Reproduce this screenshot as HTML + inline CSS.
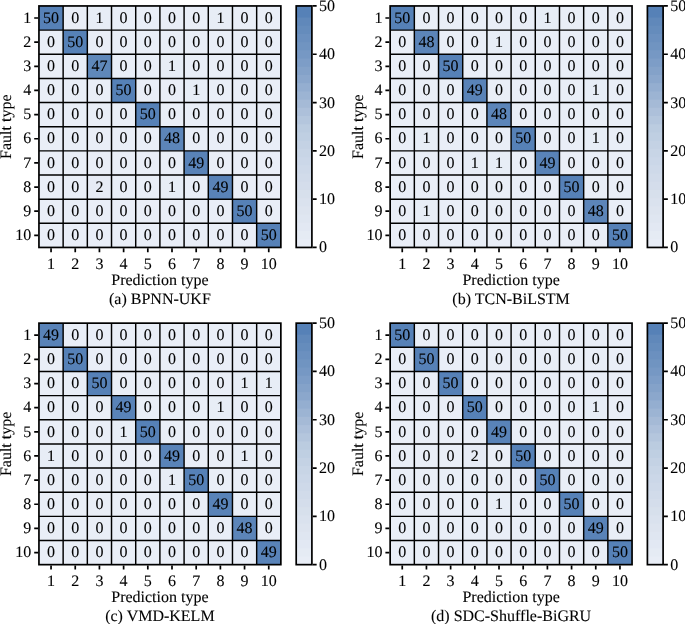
<!DOCTYPE html>
<html><head><meta charset="utf-8"><title>Confusion matrices</title>
<style>
html,body{margin:0;padding:0;background:#fff;}
body{width:685px;height:624px;overflow:hidden;}
svg{display:block;font-family:"Liberation Serif",serif;fill:#000;text-rendering:geometricPrecision;}
text{stroke:#000;stroke-width:0.1px;font-variant-ligatures:none;}
</style></head><body>
<svg width="685" height="624" viewBox="0 0 685 624">
<rect width="685" height="624" fill="#fff"/>
<g transform="translate(0,0)">
<rect x="38.95" y="5.95" width="24.19" height="24.15" fill="#5681b7"/>
<rect x="63.14" y="5.95" width="24.19" height="24.15" fill="#e9eef7"/>
<rect x="87.33" y="5.95" width="24.19" height="24.15" fill="#e7edf6"/>
<rect x="111.52" y="5.95" width="24.19" height="24.15" fill="#e9eef7"/>
<rect x="135.71" y="5.95" width="24.19" height="24.15" fill="#e9eef7"/>
<rect x="159.9" y="5.95" width="24.19" height="24.15" fill="#e9eef7"/>
<rect x="184.09" y="5.95" width="24.19" height="24.15" fill="#e9eef7"/>
<rect x="208.28" y="5.95" width="24.19" height="24.15" fill="#e7edf6"/>
<rect x="232.47" y="5.95" width="24.19" height="24.15" fill="#e9eef7"/>
<rect x="256.66" y="5.95" width="24.19" height="24.15" fill="#e9eef7"/>
<rect x="38.95" y="30.1" width="24.19" height="24.15" fill="#e9eef7"/>
<rect x="63.14" y="30.1" width="24.19" height="24.15" fill="#5681b7"/>
<rect x="87.33" y="30.1" width="24.19" height="24.15" fill="#e9eef7"/>
<rect x="111.52" y="30.1" width="24.19" height="24.15" fill="#e9eef7"/>
<rect x="135.71" y="30.1" width="24.19" height="24.15" fill="#e9eef7"/>
<rect x="159.9" y="30.1" width="24.19" height="24.15" fill="#e9eef7"/>
<rect x="184.09" y="30.1" width="24.19" height="24.15" fill="#e9eef7"/>
<rect x="208.28" y="30.1" width="24.19" height="24.15" fill="#e9eef7"/>
<rect x="232.47" y="30.1" width="24.19" height="24.15" fill="#e9eef7"/>
<rect x="256.66" y="30.1" width="24.19" height="24.15" fill="#e9eef7"/>
<rect x="38.95" y="54.25" width="24.19" height="24.15" fill="#e9eef7"/>
<rect x="63.14" y="54.25" width="24.19" height="24.15" fill="#e9eef7"/>
<rect x="87.33" y="54.25" width="24.19" height="24.15" fill="#5f88ba"/>
<rect x="111.52" y="54.25" width="24.19" height="24.15" fill="#e9eef7"/>
<rect x="135.71" y="54.25" width="24.19" height="24.15" fill="#e9eef7"/>
<rect x="159.9" y="54.25" width="24.19" height="24.15" fill="#e7edf6"/>
<rect x="184.09" y="54.25" width="24.19" height="24.15" fill="#e9eef7"/>
<rect x="208.28" y="54.25" width="24.19" height="24.15" fill="#e9eef7"/>
<rect x="232.47" y="54.25" width="24.19" height="24.15" fill="#e9eef7"/>
<rect x="256.66" y="54.25" width="24.19" height="24.15" fill="#e9eef7"/>
<rect x="38.95" y="78.4" width="24.19" height="24.15" fill="#e9eef7"/>
<rect x="63.14" y="78.4" width="24.19" height="24.15" fill="#e9eef7"/>
<rect x="87.33" y="78.4" width="24.19" height="24.15" fill="#e9eef7"/>
<rect x="111.52" y="78.4" width="24.19" height="24.15" fill="#5681b7"/>
<rect x="135.71" y="78.4" width="24.19" height="24.15" fill="#e9eef7"/>
<rect x="159.9" y="78.4" width="24.19" height="24.15" fill="#e9eef7"/>
<rect x="184.09" y="78.4" width="24.19" height="24.15" fill="#e7edf6"/>
<rect x="208.28" y="78.4" width="24.19" height="24.15" fill="#e9eef7"/>
<rect x="232.47" y="78.4" width="24.19" height="24.15" fill="#e9eef7"/>
<rect x="256.66" y="78.4" width="24.19" height="24.15" fill="#e9eef7"/>
<rect x="38.95" y="102.55" width="24.19" height="24.15" fill="#e9eef7"/>
<rect x="63.14" y="102.55" width="24.19" height="24.15" fill="#e9eef7"/>
<rect x="87.33" y="102.55" width="24.19" height="24.15" fill="#e9eef7"/>
<rect x="111.52" y="102.55" width="24.19" height="24.15" fill="#e9eef7"/>
<rect x="135.71" y="102.55" width="24.19" height="24.15" fill="#5681b7"/>
<rect x="159.9" y="102.55" width="24.19" height="24.15" fill="#e9eef7"/>
<rect x="184.09" y="102.55" width="24.19" height="24.15" fill="#e9eef7"/>
<rect x="208.28" y="102.55" width="24.19" height="24.15" fill="#e9eef7"/>
<rect x="232.47" y="102.55" width="24.19" height="24.15" fill="#e9eef7"/>
<rect x="256.66" y="102.55" width="24.19" height="24.15" fill="#e9eef7"/>
<rect x="38.95" y="126.7" width="24.19" height="24.15" fill="#e9eef7"/>
<rect x="63.14" y="126.7" width="24.19" height="24.15" fill="#e9eef7"/>
<rect x="87.33" y="126.7" width="24.19" height="24.15" fill="#e9eef7"/>
<rect x="111.52" y="126.7" width="24.19" height="24.15" fill="#e9eef7"/>
<rect x="135.71" y="126.7" width="24.19" height="24.15" fill="#e9eef7"/>
<rect x="159.9" y="126.7" width="24.19" height="24.15" fill="#5c85b9"/>
<rect x="184.09" y="126.7" width="24.19" height="24.15" fill="#e9eef7"/>
<rect x="208.28" y="126.7" width="24.19" height="24.15" fill="#e9eef7"/>
<rect x="232.47" y="126.7" width="24.19" height="24.15" fill="#e9eef7"/>
<rect x="256.66" y="126.7" width="24.19" height="24.15" fill="#e9eef7"/>
<rect x="38.95" y="150.85" width="24.19" height="24.15" fill="#e9eef7"/>
<rect x="63.14" y="150.85" width="24.19" height="24.15" fill="#e9eef7"/>
<rect x="87.33" y="150.85" width="24.19" height="24.15" fill="#e9eef7"/>
<rect x="111.52" y="150.85" width="24.19" height="24.15" fill="#e9eef7"/>
<rect x="135.71" y="150.85" width="24.19" height="24.15" fill="#e9eef7"/>
<rect x="159.9" y="150.85" width="24.19" height="24.15" fill="#e9eef7"/>
<rect x="184.09" y="150.85" width="24.19" height="24.15" fill="#5983b8"/>
<rect x="208.28" y="150.85" width="24.19" height="24.15" fill="#e9eef7"/>
<rect x="232.47" y="150.85" width="24.19" height="24.15" fill="#e9eef7"/>
<rect x="256.66" y="150.85" width="24.19" height="24.15" fill="#e9eef7"/>
<rect x="38.95" y="175" width="24.19" height="24.15" fill="#e9eef7"/>
<rect x="63.14" y="175" width="24.19" height="24.15" fill="#e9eef7"/>
<rect x="87.33" y="175" width="24.19" height="24.15" fill="#e6ebf5"/>
<rect x="111.52" y="175" width="24.19" height="24.15" fill="#e9eef7"/>
<rect x="135.71" y="175" width="24.19" height="24.15" fill="#e9eef7"/>
<rect x="159.9" y="175" width="24.19" height="24.15" fill="#e7edf6"/>
<rect x="184.09" y="175" width="24.19" height="24.15" fill="#e9eef7"/>
<rect x="208.28" y="175" width="24.19" height="24.15" fill="#5983b8"/>
<rect x="232.47" y="175" width="24.19" height="24.15" fill="#e9eef7"/>
<rect x="256.66" y="175" width="24.19" height="24.15" fill="#e9eef7"/>
<rect x="38.95" y="199.15" width="24.19" height="24.15" fill="#e9eef7"/>
<rect x="63.14" y="199.15" width="24.19" height="24.15" fill="#e9eef7"/>
<rect x="87.33" y="199.15" width="24.19" height="24.15" fill="#e9eef7"/>
<rect x="111.52" y="199.15" width="24.19" height="24.15" fill="#e9eef7"/>
<rect x="135.71" y="199.15" width="24.19" height="24.15" fill="#e9eef7"/>
<rect x="159.9" y="199.15" width="24.19" height="24.15" fill="#e9eef7"/>
<rect x="184.09" y="199.15" width="24.19" height="24.15" fill="#e9eef7"/>
<rect x="208.28" y="199.15" width="24.19" height="24.15" fill="#e9eef7"/>
<rect x="232.47" y="199.15" width="24.19" height="24.15" fill="#5681b7"/>
<rect x="256.66" y="199.15" width="24.19" height="24.15" fill="#e9eef7"/>
<rect x="38.95" y="223.3" width="24.19" height="24.15" fill="#e9eef7"/>
<rect x="63.14" y="223.3" width="24.19" height="24.15" fill="#e9eef7"/>
<rect x="87.33" y="223.3" width="24.19" height="24.15" fill="#e9eef7"/>
<rect x="111.52" y="223.3" width="24.19" height="24.15" fill="#e9eef7"/>
<rect x="135.71" y="223.3" width="24.19" height="24.15" fill="#e9eef7"/>
<rect x="159.9" y="223.3" width="24.19" height="24.15" fill="#e9eef7"/>
<rect x="184.09" y="223.3" width="24.19" height="24.15" fill="#e9eef7"/>
<rect x="208.28" y="223.3" width="24.19" height="24.15" fill="#e9eef7"/>
<rect x="232.47" y="223.3" width="24.19" height="24.15" fill="#e9eef7"/>
<rect x="256.66" y="223.3" width="24.19" height="24.15" fill="#5681b7"/>
<path d="M63.14 5.95V247.45M38.95 30.1H280.85M87.33 5.95V247.45M38.95 54.25H280.85M111.52 5.95V247.45M38.95 78.4H280.85M135.71 5.95V247.45M38.95 102.55H280.85M159.9 5.95V247.45M38.95 126.7H280.85M184.09 5.95V247.45M38.95 150.85H280.85M208.28 5.95V247.45M38.95 175H280.85M232.47 5.95V247.45M38.95 199.15H280.85M256.66 5.95V247.45M38.95 223.3H280.85" stroke="#000" stroke-width="1.45" fill="none"/>
<rect x="38.95" y="5.95" width="241.9" height="241.5" fill="none" stroke="#000" stroke-width="1.7"/>
<path d="M34.2 18.02H38.1M51.05 248.3V252.2M34.2 42.17H38.1M75.24 248.3V252.2M34.2 66.33H38.1M99.43 248.3V252.2M34.2 90.47H38.1M123.62 248.3V252.2M34.2 114.62H38.1M147.81 248.3V252.2M34.2 138.77H38.1M172 248.3V252.2M34.2 162.92H38.1M196.19 248.3V252.2M34.2 187.07H38.1M220.38 248.3V252.2M34.2 211.22H38.1M244.56 248.3V252.2M34.2 235.37H38.1M268.75 248.3V252.2" stroke="#000" stroke-width="1.7" fill="none"/>
<g font-size="16" text-anchor="middle">
<text x="51.05" y="22.72">50</text>
<text x="75.24" y="22.72">0</text>
<text x="99.43" y="22.72">1</text>
<text x="123.62" y="22.72">0</text>
<text x="147.81" y="22.72">0</text>
<text x="172" y="22.72">0</text>
<text x="196.19" y="22.72">0</text>
<text x="220.38" y="22.72">1</text>
<text x="244.56" y="22.72">0</text>
<text x="268.75" y="22.72">0</text>
<text x="51.05" y="46.88">0</text>
<text x="75.24" y="46.88">50</text>
<text x="99.43" y="46.88">0</text>
<text x="123.62" y="46.88">0</text>
<text x="147.81" y="46.88">0</text>
<text x="172" y="46.88">0</text>
<text x="196.19" y="46.88">0</text>
<text x="220.38" y="46.88">0</text>
<text x="244.56" y="46.88">0</text>
<text x="268.75" y="46.88">0</text>
<text x="51.05" y="71.03">0</text>
<text x="75.24" y="71.03">0</text>
<text x="99.43" y="71.03">47</text>
<text x="123.62" y="71.03">0</text>
<text x="147.81" y="71.03">0</text>
<text x="172" y="71.03">1</text>
<text x="196.19" y="71.03">0</text>
<text x="220.38" y="71.03">0</text>
<text x="244.56" y="71.03">0</text>
<text x="268.75" y="71.03">0</text>
<text x="51.05" y="95.17">0</text>
<text x="75.24" y="95.17">0</text>
<text x="99.43" y="95.17">0</text>
<text x="123.62" y="95.17">50</text>
<text x="147.81" y="95.17">0</text>
<text x="172" y="95.17">0</text>
<text x="196.19" y="95.17">1</text>
<text x="220.38" y="95.17">0</text>
<text x="244.56" y="95.17">0</text>
<text x="268.75" y="95.17">0</text>
<text x="51.05" y="119.33">0</text>
<text x="75.24" y="119.33">0</text>
<text x="99.43" y="119.33">0</text>
<text x="123.62" y="119.33">0</text>
<text x="147.81" y="119.33">50</text>
<text x="172" y="119.33">0</text>
<text x="196.19" y="119.33">0</text>
<text x="220.38" y="119.33">0</text>
<text x="244.56" y="119.33">0</text>
<text x="268.75" y="119.33">0</text>
<text x="51.05" y="143.47">0</text>
<text x="75.24" y="143.47">0</text>
<text x="99.43" y="143.47">0</text>
<text x="123.62" y="143.47">0</text>
<text x="147.81" y="143.47">0</text>
<text x="172" y="143.47">48</text>
<text x="196.19" y="143.47">0</text>
<text x="220.38" y="143.47">0</text>
<text x="244.56" y="143.47">0</text>
<text x="268.75" y="143.47">0</text>
<text x="51.05" y="167.62">0</text>
<text x="75.24" y="167.62">0</text>
<text x="99.43" y="167.62">0</text>
<text x="123.62" y="167.62">0</text>
<text x="147.81" y="167.62">0</text>
<text x="172" y="167.62">0</text>
<text x="196.19" y="167.62">49</text>
<text x="220.38" y="167.62">0</text>
<text x="244.56" y="167.62">0</text>
<text x="268.75" y="167.62">0</text>
<text x="51.05" y="191.77">0</text>
<text x="75.24" y="191.77">0</text>
<text x="99.43" y="191.77">2</text>
<text x="123.62" y="191.77">0</text>
<text x="147.81" y="191.77">0</text>
<text x="172" y="191.77">1</text>
<text x="196.19" y="191.77">0</text>
<text x="220.38" y="191.77">49</text>
<text x="244.56" y="191.77">0</text>
<text x="268.75" y="191.77">0</text>
<text x="51.05" y="215.92">0</text>
<text x="75.24" y="215.92">0</text>
<text x="99.43" y="215.92">0</text>
<text x="123.62" y="215.92">0</text>
<text x="147.81" y="215.92">0</text>
<text x="172" y="215.92">0</text>
<text x="196.19" y="215.92">0</text>
<text x="220.38" y="215.92">0</text>
<text x="244.56" y="215.92">50</text>
<text x="268.75" y="215.92">0</text>
<text x="51.05" y="240.07">0</text>
<text x="75.24" y="240.07">0</text>
<text x="99.43" y="240.07">0</text>
<text x="123.62" y="240.07">0</text>
<text x="147.81" y="240.07">0</text>
<text x="172" y="240.07">0</text>
<text x="196.19" y="240.07">0</text>
<text x="220.38" y="240.07">0</text>
<text x="244.56" y="240.07">0</text>
<text x="268.75" y="240.07">50</text>
</g>
<g font-size="16" text-anchor="end">
<text x="31.3" y="22.72">1</text>
<text x="31.3" y="46.88">2</text>
<text x="31.3" y="71.03">3</text>
<text x="31.3" y="95.17">4</text>
<text x="31.3" y="119.33">5</text>
<text x="31.3" y="143.47">6</text>
<text x="31.3" y="167.62">7</text>
<text x="31.3" y="191.77">8</text>
<text x="31.3" y="215.92">9</text>
<text x="31.3" y="240.07">10</text>
</g>
<g font-size="16" text-anchor="middle">
<text x="51.05" y="268.9">1</text>
<text x="75.24" y="268.9">2</text>
<text x="99.43" y="268.9">3</text>
<text x="123.62" y="268.9">4</text>
<text x="147.81" y="268.9">5</text>
<text x="172" y="268.9">6</text>
<text x="196.19" y="268.9">7</text>
<text x="220.38" y="268.9">8</text>
<text x="244.56" y="268.9">9</text>
<text x="268.75" y="268.9">10</text>
<text x="159.9" y="284.7">Prediction type</text>
<text x="159.9" y="303.5">(a) BPNN-UKF</text>
<text transform="translate(10.8,126.7) rotate(-90)">Fault type</text>
</g>
<rect x="296.2" y="5.95" width="15.7" height="241.5" fill="#e8edf6"/>
<rect x="296.2" y="5.95" width="15.7" height="233.29" fill="#e5ebf4"/>
<rect x="296.2" y="5.95" width="15.7" height="225.07" fill="#e2e8f3"/>
<rect x="296.2" y="5.95" width="15.7" height="216.86" fill="#dfe6f1"/>
<rect x="296.2" y="5.95" width="15.7" height="208.64" fill="#dde4ef"/>
<rect x="296.2" y="5.95" width="15.7" height="200.43" fill="#dae2ee"/>
<rect x="296.2" y="5.95" width="15.7" height="192.21" fill="#d7e0ec"/>
<rect x="296.2" y="5.95" width="15.7" height="184" fill="#d4ddeb"/>
<rect x="296.2" y="5.95" width="15.7" height="175.79" fill="#d1dbea"/>
<rect x="296.2" y="5.95" width="15.7" height="167.57" fill="#ced9e9"/>
<rect x="296.2" y="5.95" width="15.7" height="159.36" fill="#cbd7e8"/>
<rect x="296.2" y="5.95" width="15.7" height="151.14" fill="#c8d5e6"/>
<rect x="296.2" y="5.95" width="15.7" height="142.93" fill="#c4d2e4"/>
<rect x="296.2" y="5.95" width="15.7" height="134.71" fill="#bfcfe2"/>
<rect x="296.2" y="5.95" width="15.7" height="126.5" fill="#bbcce0"/>
<rect x="296.2" y="5.95" width="15.7" height="118.29" fill="#b4c6dd"/>
<rect x="296.2" y="5.95" width="15.7" height="110.07" fill="#adc0da"/>
<rect x="296.2" y="5.95" width="15.7" height="101.86" fill="#a5bad6"/>
<rect x="296.2" y="5.95" width="15.7" height="93.64" fill="#9cb4d3"/>
<rect x="296.2" y="5.95" width="15.7" height="85.43" fill="#94aed0"/>
<rect x="296.2" y="5.95" width="15.7" height="77.21" fill="#8ba7cc"/>
<rect x="296.2" y="5.95" width="15.7" height="69" fill="#84a2c9"/>
<rect x="296.2" y="5.95" width="15.7" height="60.79" fill="#7d9dc7"/>
<rect x="296.2" y="5.95" width="15.7" height="52.57" fill="#7698c4"/>
<rect x="296.2" y="5.95" width="15.7" height="44.36" fill="#7094c1"/>
<rect x="296.2" y="5.95" width="15.7" height="36.14" fill="#6b90bf"/>
<rect x="296.2" y="5.95" width="15.7" height="27.93" fill="#658cbc"/>
<rect x="296.2" y="5.95" width="15.7" height="19.71" fill="#6088ba"/>
<rect x="296.2" y="5.95" width="15.7" height="11.5" fill="#5681b7"/>
<rect x="296.2" y="5.95" width="15.7" height="3.29" fill="#5681b7"/>
<rect x="296.2" y="5.95" width="15.7" height="241.5" fill="none" stroke="#000" stroke-width="1.7"/>
<path d="M312.75 247.45H316.65M312.75 199.15H316.65M312.75 150.85H316.65M312.75 102.55H316.65M312.75 54.25H316.65M312.75 5.95H316.65" stroke="#000" stroke-width="1.7" fill="none"/>
<g font-size="16">
<text x="319" y="252.45">0</text>
<text x="319" y="204.15">10</text>
<text x="319" y="155.85">20</text>
<text x="319" y="107.55">30</text>
<text x="319" y="59.25">40</text>
<text x="319" y="10.95">50</text>
</g>
</g>
<g transform="translate(351.2,0)">
<rect x="38.95" y="5.95" width="24.19" height="24.15" fill="#5681b7"/>
<rect x="63.14" y="5.95" width="24.19" height="24.15" fill="#e9eef7"/>
<rect x="87.33" y="5.95" width="24.19" height="24.15" fill="#e9eef7"/>
<rect x="111.52" y="5.95" width="24.19" height="24.15" fill="#e9eef7"/>
<rect x="135.71" y="5.95" width="24.19" height="24.15" fill="#e9eef7"/>
<rect x="159.9" y="5.95" width="24.19" height="24.15" fill="#e9eef7"/>
<rect x="184.09" y="5.95" width="24.19" height="24.15" fill="#e7edf6"/>
<rect x="208.28" y="5.95" width="24.19" height="24.15" fill="#e9eef7"/>
<rect x="232.47" y="5.95" width="24.19" height="24.15" fill="#e9eef7"/>
<rect x="256.66" y="5.95" width="24.19" height="24.15" fill="#e9eef7"/>
<rect x="38.95" y="30.1" width="24.19" height="24.15" fill="#e9eef7"/>
<rect x="63.14" y="30.1" width="24.19" height="24.15" fill="#5c85b9"/>
<rect x="87.33" y="30.1" width="24.19" height="24.15" fill="#e9eef7"/>
<rect x="111.52" y="30.1" width="24.19" height="24.15" fill="#e9eef7"/>
<rect x="135.71" y="30.1" width="24.19" height="24.15" fill="#e7edf6"/>
<rect x="159.9" y="30.1" width="24.19" height="24.15" fill="#e9eef7"/>
<rect x="184.09" y="30.1" width="24.19" height="24.15" fill="#e9eef7"/>
<rect x="208.28" y="30.1" width="24.19" height="24.15" fill="#e9eef7"/>
<rect x="232.47" y="30.1" width="24.19" height="24.15" fill="#e9eef7"/>
<rect x="256.66" y="30.1" width="24.19" height="24.15" fill="#e9eef7"/>
<rect x="38.95" y="54.25" width="24.19" height="24.15" fill="#e9eef7"/>
<rect x="63.14" y="54.25" width="24.19" height="24.15" fill="#e9eef7"/>
<rect x="87.33" y="54.25" width="24.19" height="24.15" fill="#5681b7"/>
<rect x="111.52" y="54.25" width="24.19" height="24.15" fill="#e9eef7"/>
<rect x="135.71" y="54.25" width="24.19" height="24.15" fill="#e9eef7"/>
<rect x="159.9" y="54.25" width="24.19" height="24.15" fill="#e9eef7"/>
<rect x="184.09" y="54.25" width="24.19" height="24.15" fill="#e9eef7"/>
<rect x="208.28" y="54.25" width="24.19" height="24.15" fill="#e9eef7"/>
<rect x="232.47" y="54.25" width="24.19" height="24.15" fill="#e9eef7"/>
<rect x="256.66" y="54.25" width="24.19" height="24.15" fill="#e9eef7"/>
<rect x="38.95" y="78.4" width="24.19" height="24.15" fill="#e9eef7"/>
<rect x="63.14" y="78.4" width="24.19" height="24.15" fill="#e9eef7"/>
<rect x="87.33" y="78.4" width="24.19" height="24.15" fill="#e9eef7"/>
<rect x="111.52" y="78.4" width="24.19" height="24.15" fill="#5983b8"/>
<rect x="135.71" y="78.4" width="24.19" height="24.15" fill="#e9eef7"/>
<rect x="159.9" y="78.4" width="24.19" height="24.15" fill="#e9eef7"/>
<rect x="184.09" y="78.4" width="24.19" height="24.15" fill="#e9eef7"/>
<rect x="208.28" y="78.4" width="24.19" height="24.15" fill="#e9eef7"/>
<rect x="232.47" y="78.4" width="24.19" height="24.15" fill="#e7edf6"/>
<rect x="256.66" y="78.4" width="24.19" height="24.15" fill="#e9eef7"/>
<rect x="38.95" y="102.55" width="24.19" height="24.15" fill="#e9eef7"/>
<rect x="63.14" y="102.55" width="24.19" height="24.15" fill="#e9eef7"/>
<rect x="87.33" y="102.55" width="24.19" height="24.15" fill="#e9eef7"/>
<rect x="111.52" y="102.55" width="24.19" height="24.15" fill="#e9eef7"/>
<rect x="135.71" y="102.55" width="24.19" height="24.15" fill="#5c85b9"/>
<rect x="159.9" y="102.55" width="24.19" height="24.15" fill="#e9eef7"/>
<rect x="184.09" y="102.55" width="24.19" height="24.15" fill="#e9eef7"/>
<rect x="208.28" y="102.55" width="24.19" height="24.15" fill="#e9eef7"/>
<rect x="232.47" y="102.55" width="24.19" height="24.15" fill="#e9eef7"/>
<rect x="256.66" y="102.55" width="24.19" height="24.15" fill="#e9eef7"/>
<rect x="38.95" y="126.7" width="24.19" height="24.15" fill="#e9eef7"/>
<rect x="63.14" y="126.7" width="24.19" height="24.15" fill="#e7edf6"/>
<rect x="87.33" y="126.7" width="24.19" height="24.15" fill="#e9eef7"/>
<rect x="111.52" y="126.7" width="24.19" height="24.15" fill="#e9eef7"/>
<rect x="135.71" y="126.7" width="24.19" height="24.15" fill="#e9eef7"/>
<rect x="159.9" y="126.7" width="24.19" height="24.15" fill="#5681b7"/>
<rect x="184.09" y="126.7" width="24.19" height="24.15" fill="#e9eef7"/>
<rect x="208.28" y="126.7" width="24.19" height="24.15" fill="#e9eef7"/>
<rect x="232.47" y="126.7" width="24.19" height="24.15" fill="#e7edf6"/>
<rect x="256.66" y="126.7" width="24.19" height="24.15" fill="#e9eef7"/>
<rect x="38.95" y="150.85" width="24.19" height="24.15" fill="#e9eef7"/>
<rect x="63.14" y="150.85" width="24.19" height="24.15" fill="#e9eef7"/>
<rect x="87.33" y="150.85" width="24.19" height="24.15" fill="#e9eef7"/>
<rect x="111.52" y="150.85" width="24.19" height="24.15" fill="#e7edf6"/>
<rect x="135.71" y="150.85" width="24.19" height="24.15" fill="#e7edf6"/>
<rect x="159.9" y="150.85" width="24.19" height="24.15" fill="#e9eef7"/>
<rect x="184.09" y="150.85" width="24.19" height="24.15" fill="#5983b8"/>
<rect x="208.28" y="150.85" width="24.19" height="24.15" fill="#e9eef7"/>
<rect x="232.47" y="150.85" width="24.19" height="24.15" fill="#e9eef7"/>
<rect x="256.66" y="150.85" width="24.19" height="24.15" fill="#e9eef7"/>
<rect x="38.95" y="175" width="24.19" height="24.15" fill="#e9eef7"/>
<rect x="63.14" y="175" width="24.19" height="24.15" fill="#e9eef7"/>
<rect x="87.33" y="175" width="24.19" height="24.15" fill="#e9eef7"/>
<rect x="111.52" y="175" width="24.19" height="24.15" fill="#e9eef7"/>
<rect x="135.71" y="175" width="24.19" height="24.15" fill="#e9eef7"/>
<rect x="159.9" y="175" width="24.19" height="24.15" fill="#e9eef7"/>
<rect x="184.09" y="175" width="24.19" height="24.15" fill="#e9eef7"/>
<rect x="208.28" y="175" width="24.19" height="24.15" fill="#5681b7"/>
<rect x="232.47" y="175" width="24.19" height="24.15" fill="#e9eef7"/>
<rect x="256.66" y="175" width="24.19" height="24.15" fill="#e9eef7"/>
<rect x="38.95" y="199.15" width="24.19" height="24.15" fill="#e9eef7"/>
<rect x="63.14" y="199.15" width="24.19" height="24.15" fill="#e7edf6"/>
<rect x="87.33" y="199.15" width="24.19" height="24.15" fill="#e9eef7"/>
<rect x="111.52" y="199.15" width="24.19" height="24.15" fill="#e9eef7"/>
<rect x="135.71" y="199.15" width="24.19" height="24.15" fill="#e9eef7"/>
<rect x="159.9" y="199.15" width="24.19" height="24.15" fill="#e9eef7"/>
<rect x="184.09" y="199.15" width="24.19" height="24.15" fill="#e9eef7"/>
<rect x="208.28" y="199.15" width="24.19" height="24.15" fill="#e9eef7"/>
<rect x="232.47" y="199.15" width="24.19" height="24.15" fill="#5c85b9"/>
<rect x="256.66" y="199.15" width="24.19" height="24.15" fill="#e9eef7"/>
<rect x="38.95" y="223.3" width="24.19" height="24.15" fill="#e9eef7"/>
<rect x="63.14" y="223.3" width="24.19" height="24.15" fill="#e9eef7"/>
<rect x="87.33" y="223.3" width="24.19" height="24.15" fill="#e9eef7"/>
<rect x="111.52" y="223.3" width="24.19" height="24.15" fill="#e9eef7"/>
<rect x="135.71" y="223.3" width="24.19" height="24.15" fill="#e9eef7"/>
<rect x="159.9" y="223.3" width="24.19" height="24.15" fill="#e9eef7"/>
<rect x="184.09" y="223.3" width="24.19" height="24.15" fill="#e9eef7"/>
<rect x="208.28" y="223.3" width="24.19" height="24.15" fill="#e9eef7"/>
<rect x="232.47" y="223.3" width="24.19" height="24.15" fill="#e9eef7"/>
<rect x="256.66" y="223.3" width="24.19" height="24.15" fill="#5681b7"/>
<path d="M63.14 5.95V247.45M38.95 30.1H280.85M87.33 5.95V247.45M38.95 54.25H280.85M111.52 5.95V247.45M38.95 78.4H280.85M135.71 5.95V247.45M38.95 102.55H280.85M159.9 5.95V247.45M38.95 126.7H280.85M184.09 5.95V247.45M38.95 150.85H280.85M208.28 5.95V247.45M38.95 175H280.85M232.47 5.95V247.45M38.95 199.15H280.85M256.66 5.95V247.45M38.95 223.3H280.85" stroke="#000" stroke-width="1.45" fill="none"/>
<rect x="38.95" y="5.95" width="241.9" height="241.5" fill="none" stroke="#000" stroke-width="1.7"/>
<path d="M34.2 18.02H38.1M51.05 248.3V252.2M34.2 42.17H38.1M75.24 248.3V252.2M34.2 66.33H38.1M99.43 248.3V252.2M34.2 90.47H38.1M123.62 248.3V252.2M34.2 114.62H38.1M147.81 248.3V252.2M34.2 138.77H38.1M172 248.3V252.2M34.2 162.92H38.1M196.19 248.3V252.2M34.2 187.07H38.1M220.38 248.3V252.2M34.2 211.22H38.1M244.56 248.3V252.2M34.2 235.37H38.1M268.75 248.3V252.2" stroke="#000" stroke-width="1.7" fill="none"/>
<g font-size="16" text-anchor="middle">
<text x="51.05" y="22.72">50</text>
<text x="75.24" y="22.72">0</text>
<text x="99.43" y="22.72">0</text>
<text x="123.62" y="22.72">0</text>
<text x="147.81" y="22.72">0</text>
<text x="172" y="22.72">0</text>
<text x="196.19" y="22.72">1</text>
<text x="220.38" y="22.72">0</text>
<text x="244.56" y="22.72">0</text>
<text x="268.75" y="22.72">0</text>
<text x="51.05" y="46.88">0</text>
<text x="75.24" y="46.88">48</text>
<text x="99.43" y="46.88">0</text>
<text x="123.62" y="46.88">0</text>
<text x="147.81" y="46.88">1</text>
<text x="172" y="46.88">0</text>
<text x="196.19" y="46.88">0</text>
<text x="220.38" y="46.88">0</text>
<text x="244.56" y="46.88">0</text>
<text x="268.75" y="46.88">0</text>
<text x="51.05" y="71.03">0</text>
<text x="75.24" y="71.03">0</text>
<text x="99.43" y="71.03">50</text>
<text x="123.62" y="71.03">0</text>
<text x="147.81" y="71.03">0</text>
<text x="172" y="71.03">0</text>
<text x="196.19" y="71.03">0</text>
<text x="220.38" y="71.03">0</text>
<text x="244.56" y="71.03">0</text>
<text x="268.75" y="71.03">0</text>
<text x="51.05" y="95.17">0</text>
<text x="75.24" y="95.17">0</text>
<text x="99.43" y="95.17">0</text>
<text x="123.62" y="95.17">49</text>
<text x="147.81" y="95.17">0</text>
<text x="172" y="95.17">0</text>
<text x="196.19" y="95.17">0</text>
<text x="220.38" y="95.17">0</text>
<text x="244.56" y="95.17">1</text>
<text x="268.75" y="95.17">0</text>
<text x="51.05" y="119.33">0</text>
<text x="75.24" y="119.33">0</text>
<text x="99.43" y="119.33">0</text>
<text x="123.62" y="119.33">0</text>
<text x="147.81" y="119.33">48</text>
<text x="172" y="119.33">0</text>
<text x="196.19" y="119.33">0</text>
<text x="220.38" y="119.33">0</text>
<text x="244.56" y="119.33">0</text>
<text x="268.75" y="119.33">0</text>
<text x="51.05" y="143.47">0</text>
<text x="75.24" y="143.47">1</text>
<text x="99.43" y="143.47">0</text>
<text x="123.62" y="143.47">0</text>
<text x="147.81" y="143.47">0</text>
<text x="172" y="143.47">50</text>
<text x="196.19" y="143.47">0</text>
<text x="220.38" y="143.47">0</text>
<text x="244.56" y="143.47">1</text>
<text x="268.75" y="143.47">0</text>
<text x="51.05" y="167.62">0</text>
<text x="75.24" y="167.62">0</text>
<text x="99.43" y="167.62">0</text>
<text x="123.62" y="167.62">1</text>
<text x="147.81" y="167.62">1</text>
<text x="172" y="167.62">0</text>
<text x="196.19" y="167.62">49</text>
<text x="220.38" y="167.62">0</text>
<text x="244.56" y="167.62">0</text>
<text x="268.75" y="167.62">0</text>
<text x="51.05" y="191.77">0</text>
<text x="75.24" y="191.77">0</text>
<text x="99.43" y="191.77">0</text>
<text x="123.62" y="191.77">0</text>
<text x="147.81" y="191.77">0</text>
<text x="172" y="191.77">0</text>
<text x="196.19" y="191.77">0</text>
<text x="220.38" y="191.77">50</text>
<text x="244.56" y="191.77">0</text>
<text x="268.75" y="191.77">0</text>
<text x="51.05" y="215.92">0</text>
<text x="75.24" y="215.92">1</text>
<text x="99.43" y="215.92">0</text>
<text x="123.62" y="215.92">0</text>
<text x="147.81" y="215.92">0</text>
<text x="172" y="215.92">0</text>
<text x="196.19" y="215.92">0</text>
<text x="220.38" y="215.92">0</text>
<text x="244.56" y="215.92">48</text>
<text x="268.75" y="215.92">0</text>
<text x="51.05" y="240.07">0</text>
<text x="75.24" y="240.07">0</text>
<text x="99.43" y="240.07">0</text>
<text x="123.62" y="240.07">0</text>
<text x="147.81" y="240.07">0</text>
<text x="172" y="240.07">0</text>
<text x="196.19" y="240.07">0</text>
<text x="220.38" y="240.07">0</text>
<text x="244.56" y="240.07">0</text>
<text x="268.75" y="240.07">50</text>
</g>
<g font-size="16" text-anchor="end">
<text x="31.3" y="22.72">1</text>
<text x="31.3" y="46.88">2</text>
<text x="31.3" y="71.03">3</text>
<text x="31.3" y="95.17">4</text>
<text x="31.3" y="119.33">5</text>
<text x="31.3" y="143.47">6</text>
<text x="31.3" y="167.62">7</text>
<text x="31.3" y="191.77">8</text>
<text x="31.3" y="215.92">9</text>
<text x="31.3" y="240.07">10</text>
</g>
<g font-size="16" text-anchor="middle">
<text x="51.05" y="268.9">1</text>
<text x="75.24" y="268.9">2</text>
<text x="99.43" y="268.9">3</text>
<text x="123.62" y="268.9">4</text>
<text x="147.81" y="268.9">5</text>
<text x="172" y="268.9">6</text>
<text x="196.19" y="268.9">7</text>
<text x="220.38" y="268.9">8</text>
<text x="244.56" y="268.9">9</text>
<text x="268.75" y="268.9">10</text>
<text x="159.9" y="284.7">Prediction type</text>
<text x="159.9" y="303.5">(b) TCN-BiLSTM</text>
<text transform="translate(11.8,126.7) rotate(-90)">Fault type</text>
</g>
<rect x="296.2" y="5.95" width="15.7" height="241.5" fill="#e8edf6"/>
<rect x="296.2" y="5.95" width="15.7" height="233.29" fill="#e5ebf4"/>
<rect x="296.2" y="5.95" width="15.7" height="225.07" fill="#e2e8f3"/>
<rect x="296.2" y="5.95" width="15.7" height="216.86" fill="#dfe6f1"/>
<rect x="296.2" y="5.95" width="15.7" height="208.64" fill="#dde4ef"/>
<rect x="296.2" y="5.95" width="15.7" height="200.43" fill="#dae2ee"/>
<rect x="296.2" y="5.95" width="15.7" height="192.21" fill="#d7e0ec"/>
<rect x="296.2" y="5.95" width="15.7" height="184" fill="#d4ddeb"/>
<rect x="296.2" y="5.95" width="15.7" height="175.79" fill="#d1dbea"/>
<rect x="296.2" y="5.95" width="15.7" height="167.57" fill="#ced9e9"/>
<rect x="296.2" y="5.95" width="15.7" height="159.36" fill="#cbd7e8"/>
<rect x="296.2" y="5.95" width="15.7" height="151.14" fill="#c8d5e6"/>
<rect x="296.2" y="5.95" width="15.7" height="142.93" fill="#c4d2e4"/>
<rect x="296.2" y="5.95" width="15.7" height="134.71" fill="#bfcfe2"/>
<rect x="296.2" y="5.95" width="15.7" height="126.5" fill="#bbcce0"/>
<rect x="296.2" y="5.95" width="15.7" height="118.29" fill="#b4c6dd"/>
<rect x="296.2" y="5.95" width="15.7" height="110.07" fill="#adc0da"/>
<rect x="296.2" y="5.95" width="15.7" height="101.86" fill="#a5bad6"/>
<rect x="296.2" y="5.95" width="15.7" height="93.64" fill="#9cb4d3"/>
<rect x="296.2" y="5.95" width="15.7" height="85.43" fill="#94aed0"/>
<rect x="296.2" y="5.95" width="15.7" height="77.21" fill="#8ba7cc"/>
<rect x="296.2" y="5.95" width="15.7" height="69" fill="#84a2c9"/>
<rect x="296.2" y="5.95" width="15.7" height="60.79" fill="#7d9dc7"/>
<rect x="296.2" y="5.95" width="15.7" height="52.57" fill="#7698c4"/>
<rect x="296.2" y="5.95" width="15.7" height="44.36" fill="#7094c1"/>
<rect x="296.2" y="5.95" width="15.7" height="36.14" fill="#6b90bf"/>
<rect x="296.2" y="5.95" width="15.7" height="27.93" fill="#658cbc"/>
<rect x="296.2" y="5.95" width="15.7" height="19.71" fill="#6088ba"/>
<rect x="296.2" y="5.95" width="15.7" height="11.5" fill="#5681b7"/>
<rect x="296.2" y="5.95" width="15.7" height="3.29" fill="#5681b7"/>
<rect x="296.2" y="5.95" width="15.7" height="241.5" fill="none" stroke="#000" stroke-width="1.7"/>
<path d="M312.75 247.45H316.65M312.75 199.15H316.65M312.75 150.85H316.65M312.75 102.55H316.65M312.75 54.25H316.65M312.75 5.95H316.65" stroke="#000" stroke-width="1.7" fill="none"/>
<g font-size="16">
<text x="319" y="252.45">0</text>
<text x="319" y="204.15">10</text>
<text x="319" y="155.85">20</text>
<text x="319" y="107.55">30</text>
<text x="319" y="59.25">40</text>
<text x="319" y="10.95">50</text>
</g>
</g>
<g transform="translate(0,317.2)">
<rect x="38.95" y="5.95" width="24.19" height="24.15" fill="#5983b8"/>
<rect x="63.14" y="5.95" width="24.19" height="24.15" fill="#e9eef7"/>
<rect x="87.33" y="5.95" width="24.19" height="24.15" fill="#e9eef7"/>
<rect x="111.52" y="5.95" width="24.19" height="24.15" fill="#e9eef7"/>
<rect x="135.71" y="5.95" width="24.19" height="24.15" fill="#e9eef7"/>
<rect x="159.9" y="5.95" width="24.19" height="24.15" fill="#e9eef7"/>
<rect x="184.09" y="5.95" width="24.19" height="24.15" fill="#e9eef7"/>
<rect x="208.28" y="5.95" width="24.19" height="24.15" fill="#e9eef7"/>
<rect x="232.47" y="5.95" width="24.19" height="24.15" fill="#e9eef7"/>
<rect x="256.66" y="5.95" width="24.19" height="24.15" fill="#e9eef7"/>
<rect x="38.95" y="30.1" width="24.19" height="24.15" fill="#e9eef7"/>
<rect x="63.14" y="30.1" width="24.19" height="24.15" fill="#5681b7"/>
<rect x="87.33" y="30.1" width="24.19" height="24.15" fill="#e9eef7"/>
<rect x="111.52" y="30.1" width="24.19" height="24.15" fill="#e9eef7"/>
<rect x="135.71" y="30.1" width="24.19" height="24.15" fill="#e9eef7"/>
<rect x="159.9" y="30.1" width="24.19" height="24.15" fill="#e9eef7"/>
<rect x="184.09" y="30.1" width="24.19" height="24.15" fill="#e9eef7"/>
<rect x="208.28" y="30.1" width="24.19" height="24.15" fill="#e9eef7"/>
<rect x="232.47" y="30.1" width="24.19" height="24.15" fill="#e9eef7"/>
<rect x="256.66" y="30.1" width="24.19" height="24.15" fill="#e9eef7"/>
<rect x="38.95" y="54.25" width="24.19" height="24.15" fill="#e9eef7"/>
<rect x="63.14" y="54.25" width="24.19" height="24.15" fill="#e9eef7"/>
<rect x="87.33" y="54.25" width="24.19" height="24.15" fill="#5681b7"/>
<rect x="111.52" y="54.25" width="24.19" height="24.15" fill="#e9eef7"/>
<rect x="135.71" y="54.25" width="24.19" height="24.15" fill="#e9eef7"/>
<rect x="159.9" y="54.25" width="24.19" height="24.15" fill="#e9eef7"/>
<rect x="184.09" y="54.25" width="24.19" height="24.15" fill="#e9eef7"/>
<rect x="208.28" y="54.25" width="24.19" height="24.15" fill="#e9eef7"/>
<rect x="232.47" y="54.25" width="24.19" height="24.15" fill="#e7edf6"/>
<rect x="256.66" y="54.25" width="24.19" height="24.15" fill="#e7edf6"/>
<rect x="38.95" y="78.4" width="24.19" height="24.15" fill="#e9eef7"/>
<rect x="63.14" y="78.4" width="24.19" height="24.15" fill="#e9eef7"/>
<rect x="87.33" y="78.4" width="24.19" height="24.15" fill="#e9eef7"/>
<rect x="111.52" y="78.4" width="24.19" height="24.15" fill="#5983b8"/>
<rect x="135.71" y="78.4" width="24.19" height="24.15" fill="#e9eef7"/>
<rect x="159.9" y="78.4" width="24.19" height="24.15" fill="#e9eef7"/>
<rect x="184.09" y="78.4" width="24.19" height="24.15" fill="#e9eef7"/>
<rect x="208.28" y="78.4" width="24.19" height="24.15" fill="#e7edf6"/>
<rect x="232.47" y="78.4" width="24.19" height="24.15" fill="#e9eef7"/>
<rect x="256.66" y="78.4" width="24.19" height="24.15" fill="#e9eef7"/>
<rect x="38.95" y="102.55" width="24.19" height="24.15" fill="#e9eef7"/>
<rect x="63.14" y="102.55" width="24.19" height="24.15" fill="#e9eef7"/>
<rect x="87.33" y="102.55" width="24.19" height="24.15" fill="#e9eef7"/>
<rect x="111.52" y="102.55" width="24.19" height="24.15" fill="#e7edf6"/>
<rect x="135.71" y="102.55" width="24.19" height="24.15" fill="#5681b7"/>
<rect x="159.9" y="102.55" width="24.19" height="24.15" fill="#e9eef7"/>
<rect x="184.09" y="102.55" width="24.19" height="24.15" fill="#e9eef7"/>
<rect x="208.28" y="102.55" width="24.19" height="24.15" fill="#e9eef7"/>
<rect x="232.47" y="102.55" width="24.19" height="24.15" fill="#e9eef7"/>
<rect x="256.66" y="102.55" width="24.19" height="24.15" fill="#e9eef7"/>
<rect x="38.95" y="126.7" width="24.19" height="24.15" fill="#e7edf6"/>
<rect x="63.14" y="126.7" width="24.19" height="24.15" fill="#e9eef7"/>
<rect x="87.33" y="126.7" width="24.19" height="24.15" fill="#e9eef7"/>
<rect x="111.52" y="126.7" width="24.19" height="24.15" fill="#e9eef7"/>
<rect x="135.71" y="126.7" width="24.19" height="24.15" fill="#e9eef7"/>
<rect x="159.9" y="126.7" width="24.19" height="24.15" fill="#5983b8"/>
<rect x="184.09" y="126.7" width="24.19" height="24.15" fill="#e9eef7"/>
<rect x="208.28" y="126.7" width="24.19" height="24.15" fill="#e9eef7"/>
<rect x="232.47" y="126.7" width="24.19" height="24.15" fill="#e7edf6"/>
<rect x="256.66" y="126.7" width="24.19" height="24.15" fill="#e9eef7"/>
<rect x="38.95" y="150.85" width="24.19" height="24.15" fill="#e9eef7"/>
<rect x="63.14" y="150.85" width="24.19" height="24.15" fill="#e9eef7"/>
<rect x="87.33" y="150.85" width="24.19" height="24.15" fill="#e9eef7"/>
<rect x="111.52" y="150.85" width="24.19" height="24.15" fill="#e9eef7"/>
<rect x="135.71" y="150.85" width="24.19" height="24.15" fill="#e9eef7"/>
<rect x="159.9" y="150.85" width="24.19" height="24.15" fill="#e7edf6"/>
<rect x="184.09" y="150.85" width="24.19" height="24.15" fill="#5681b7"/>
<rect x="208.28" y="150.85" width="24.19" height="24.15" fill="#e9eef7"/>
<rect x="232.47" y="150.85" width="24.19" height="24.15" fill="#e9eef7"/>
<rect x="256.66" y="150.85" width="24.19" height="24.15" fill="#e9eef7"/>
<rect x="38.95" y="175" width="24.19" height="24.15" fill="#e9eef7"/>
<rect x="63.14" y="175" width="24.19" height="24.15" fill="#e9eef7"/>
<rect x="87.33" y="175" width="24.19" height="24.15" fill="#e9eef7"/>
<rect x="111.52" y="175" width="24.19" height="24.15" fill="#e9eef7"/>
<rect x="135.71" y="175" width="24.19" height="24.15" fill="#e9eef7"/>
<rect x="159.9" y="175" width="24.19" height="24.15" fill="#e9eef7"/>
<rect x="184.09" y="175" width="24.19" height="24.15" fill="#e9eef7"/>
<rect x="208.28" y="175" width="24.19" height="24.15" fill="#5983b8"/>
<rect x="232.47" y="175" width="24.19" height="24.15" fill="#e9eef7"/>
<rect x="256.66" y="175" width="24.19" height="24.15" fill="#e9eef7"/>
<rect x="38.95" y="199.15" width="24.19" height="24.15" fill="#e9eef7"/>
<rect x="63.14" y="199.15" width="24.19" height="24.15" fill="#e9eef7"/>
<rect x="87.33" y="199.15" width="24.19" height="24.15" fill="#e9eef7"/>
<rect x="111.52" y="199.15" width="24.19" height="24.15" fill="#e9eef7"/>
<rect x="135.71" y="199.15" width="24.19" height="24.15" fill="#e9eef7"/>
<rect x="159.9" y="199.15" width="24.19" height="24.15" fill="#e9eef7"/>
<rect x="184.09" y="199.15" width="24.19" height="24.15" fill="#e9eef7"/>
<rect x="208.28" y="199.15" width="24.19" height="24.15" fill="#e9eef7"/>
<rect x="232.47" y="199.15" width="24.19" height="24.15" fill="#5c85b9"/>
<rect x="256.66" y="199.15" width="24.19" height="24.15" fill="#e9eef7"/>
<rect x="38.95" y="223.3" width="24.19" height="24.15" fill="#e9eef7"/>
<rect x="63.14" y="223.3" width="24.19" height="24.15" fill="#e9eef7"/>
<rect x="87.33" y="223.3" width="24.19" height="24.15" fill="#e9eef7"/>
<rect x="111.52" y="223.3" width="24.19" height="24.15" fill="#e9eef7"/>
<rect x="135.71" y="223.3" width="24.19" height="24.15" fill="#e9eef7"/>
<rect x="159.9" y="223.3" width="24.19" height="24.15" fill="#e9eef7"/>
<rect x="184.09" y="223.3" width="24.19" height="24.15" fill="#e9eef7"/>
<rect x="208.28" y="223.3" width="24.19" height="24.15" fill="#e9eef7"/>
<rect x="232.47" y="223.3" width="24.19" height="24.15" fill="#e9eef7"/>
<rect x="256.66" y="223.3" width="24.19" height="24.15" fill="#5983b8"/>
<path d="M63.14 5.95V247.45M38.95 30.1H280.85M87.33 5.95V247.45M38.95 54.25H280.85M111.52 5.95V247.45M38.95 78.4H280.85M135.71 5.95V247.45M38.95 102.55H280.85M159.9 5.95V247.45M38.95 126.7H280.85M184.09 5.95V247.45M38.95 150.85H280.85M208.28 5.95V247.45M38.95 175H280.85M232.47 5.95V247.45M38.95 199.15H280.85M256.66 5.95V247.45M38.95 223.3H280.85" stroke="#000" stroke-width="1.45" fill="none"/>
<rect x="38.95" y="5.95" width="241.9" height="241.5" fill="none" stroke="#000" stroke-width="1.7"/>
<path d="M34.2 18.02H38.1M51.05 248.3V252.2M34.2 42.17H38.1M75.24 248.3V252.2M34.2 66.33H38.1M99.43 248.3V252.2M34.2 90.47H38.1M123.62 248.3V252.2M34.2 114.62H38.1M147.81 248.3V252.2M34.2 138.77H38.1M172 248.3V252.2M34.2 162.92H38.1M196.19 248.3V252.2M34.2 187.07H38.1M220.38 248.3V252.2M34.2 211.22H38.1M244.56 248.3V252.2M34.2 235.37H38.1M268.75 248.3V252.2" stroke="#000" stroke-width="1.7" fill="none"/>
<g font-size="16" text-anchor="middle">
<text x="51.05" y="22.72">49</text>
<text x="75.24" y="22.72">0</text>
<text x="99.43" y="22.72">0</text>
<text x="123.62" y="22.72">0</text>
<text x="147.81" y="22.72">0</text>
<text x="172" y="22.72">0</text>
<text x="196.19" y="22.72">0</text>
<text x="220.38" y="22.72">0</text>
<text x="244.56" y="22.72">0</text>
<text x="268.75" y="22.72">0</text>
<text x="51.05" y="46.88">0</text>
<text x="75.24" y="46.88">50</text>
<text x="99.43" y="46.88">0</text>
<text x="123.62" y="46.88">0</text>
<text x="147.81" y="46.88">0</text>
<text x="172" y="46.88">0</text>
<text x="196.19" y="46.88">0</text>
<text x="220.38" y="46.88">0</text>
<text x="244.56" y="46.88">0</text>
<text x="268.75" y="46.88">0</text>
<text x="51.05" y="71.03">0</text>
<text x="75.24" y="71.03">0</text>
<text x="99.43" y="71.03">50</text>
<text x="123.62" y="71.03">0</text>
<text x="147.81" y="71.03">0</text>
<text x="172" y="71.03">0</text>
<text x="196.19" y="71.03">0</text>
<text x="220.38" y="71.03">0</text>
<text x="244.56" y="71.03">1</text>
<text x="268.75" y="71.03">1</text>
<text x="51.05" y="95.17">0</text>
<text x="75.24" y="95.17">0</text>
<text x="99.43" y="95.17">0</text>
<text x="123.62" y="95.17">49</text>
<text x="147.81" y="95.17">0</text>
<text x="172" y="95.17">0</text>
<text x="196.19" y="95.17">0</text>
<text x="220.38" y="95.17">1</text>
<text x="244.56" y="95.17">0</text>
<text x="268.75" y="95.17">0</text>
<text x="51.05" y="119.33">0</text>
<text x="75.24" y="119.33">0</text>
<text x="99.43" y="119.33">0</text>
<text x="123.62" y="119.33">1</text>
<text x="147.81" y="119.33">50</text>
<text x="172" y="119.33">0</text>
<text x="196.19" y="119.33">0</text>
<text x="220.38" y="119.33">0</text>
<text x="244.56" y="119.33">0</text>
<text x="268.75" y="119.33">0</text>
<text x="51.05" y="143.47">1</text>
<text x="75.24" y="143.47">0</text>
<text x="99.43" y="143.47">0</text>
<text x="123.62" y="143.47">0</text>
<text x="147.81" y="143.47">0</text>
<text x="172" y="143.47">49</text>
<text x="196.19" y="143.47">0</text>
<text x="220.38" y="143.47">0</text>
<text x="244.56" y="143.47">1</text>
<text x="268.75" y="143.47">0</text>
<text x="51.05" y="167.62">0</text>
<text x="75.24" y="167.62">0</text>
<text x="99.43" y="167.62">0</text>
<text x="123.62" y="167.62">0</text>
<text x="147.81" y="167.62">0</text>
<text x="172" y="167.62">1</text>
<text x="196.19" y="167.62">50</text>
<text x="220.38" y="167.62">0</text>
<text x="244.56" y="167.62">0</text>
<text x="268.75" y="167.62">0</text>
<text x="51.05" y="191.77">0</text>
<text x="75.24" y="191.77">0</text>
<text x="99.43" y="191.77">0</text>
<text x="123.62" y="191.77">0</text>
<text x="147.81" y="191.77">0</text>
<text x="172" y="191.77">0</text>
<text x="196.19" y="191.77">0</text>
<text x="220.38" y="191.77">49</text>
<text x="244.56" y="191.77">0</text>
<text x="268.75" y="191.77">0</text>
<text x="51.05" y="215.92">0</text>
<text x="75.24" y="215.92">0</text>
<text x="99.43" y="215.92">0</text>
<text x="123.62" y="215.92">0</text>
<text x="147.81" y="215.92">0</text>
<text x="172" y="215.92">0</text>
<text x="196.19" y="215.92">0</text>
<text x="220.38" y="215.92">0</text>
<text x="244.56" y="215.92">48</text>
<text x="268.75" y="215.92">0</text>
<text x="51.05" y="240.07">0</text>
<text x="75.24" y="240.07">0</text>
<text x="99.43" y="240.07">0</text>
<text x="123.62" y="240.07">0</text>
<text x="147.81" y="240.07">0</text>
<text x="172" y="240.07">0</text>
<text x="196.19" y="240.07">0</text>
<text x="220.38" y="240.07">0</text>
<text x="244.56" y="240.07">0</text>
<text x="268.75" y="240.07">49</text>
</g>
<g font-size="16" text-anchor="end">
<text x="31.3" y="22.72">1</text>
<text x="31.3" y="46.88">2</text>
<text x="31.3" y="71.03">3</text>
<text x="31.3" y="95.17">4</text>
<text x="31.3" y="119.33">5</text>
<text x="31.3" y="143.47">6</text>
<text x="31.3" y="167.62">7</text>
<text x="31.3" y="191.77">8</text>
<text x="31.3" y="215.92">9</text>
<text x="31.3" y="240.07">10</text>
</g>
<g font-size="16" text-anchor="middle">
<text x="51.05" y="269.3">1</text>
<text x="75.24" y="269.3">2</text>
<text x="99.43" y="269.3">3</text>
<text x="123.62" y="269.3">4</text>
<text x="147.81" y="269.3">5</text>
<text x="172" y="269.3">6</text>
<text x="196.19" y="269.3">7</text>
<text x="220.38" y="269.3">8</text>
<text x="244.56" y="269.3">9</text>
<text x="268.75" y="269.3">10</text>
<text x="159.9" y="285.1">Prediction type</text>
<text x="159.9" y="303.9">(c) VMD-KELM</text>
<text transform="translate(10.8,126.7) rotate(-90)">Fault type</text>
</g>
<rect x="296.2" y="5.95" width="15.7" height="241.5" fill="#e8edf6"/>
<rect x="296.2" y="5.95" width="15.7" height="233.29" fill="#e5ebf4"/>
<rect x="296.2" y="5.95" width="15.7" height="225.07" fill="#e2e8f3"/>
<rect x="296.2" y="5.95" width="15.7" height="216.86" fill="#dfe6f1"/>
<rect x="296.2" y="5.95" width="15.7" height="208.64" fill="#dde4ef"/>
<rect x="296.2" y="5.95" width="15.7" height="200.43" fill="#dae2ee"/>
<rect x="296.2" y="5.95" width="15.7" height="192.21" fill="#d7e0ec"/>
<rect x="296.2" y="5.95" width="15.7" height="184" fill="#d4ddeb"/>
<rect x="296.2" y="5.95" width="15.7" height="175.79" fill="#d1dbea"/>
<rect x="296.2" y="5.95" width="15.7" height="167.57" fill="#ced9e9"/>
<rect x="296.2" y="5.95" width="15.7" height="159.36" fill="#cbd7e8"/>
<rect x="296.2" y="5.95" width="15.7" height="151.14" fill="#c8d5e6"/>
<rect x="296.2" y="5.95" width="15.7" height="142.93" fill="#c4d2e4"/>
<rect x="296.2" y="5.95" width="15.7" height="134.71" fill="#bfcfe2"/>
<rect x="296.2" y="5.95" width="15.7" height="126.5" fill="#bbcce0"/>
<rect x="296.2" y="5.95" width="15.7" height="118.29" fill="#b4c6dd"/>
<rect x="296.2" y="5.95" width="15.7" height="110.07" fill="#adc0da"/>
<rect x="296.2" y="5.95" width="15.7" height="101.86" fill="#a5bad6"/>
<rect x="296.2" y="5.95" width="15.7" height="93.64" fill="#9cb4d3"/>
<rect x="296.2" y="5.95" width="15.7" height="85.43" fill="#94aed0"/>
<rect x="296.2" y="5.95" width="15.7" height="77.21" fill="#8ba7cc"/>
<rect x="296.2" y="5.95" width="15.7" height="69" fill="#84a2c9"/>
<rect x="296.2" y="5.95" width="15.7" height="60.79" fill="#7d9dc7"/>
<rect x="296.2" y="5.95" width="15.7" height="52.57" fill="#7698c4"/>
<rect x="296.2" y="5.95" width="15.7" height="44.36" fill="#7094c1"/>
<rect x="296.2" y="5.95" width="15.7" height="36.14" fill="#6b90bf"/>
<rect x="296.2" y="5.95" width="15.7" height="27.93" fill="#658cbc"/>
<rect x="296.2" y="5.95" width="15.7" height="19.71" fill="#6088ba"/>
<rect x="296.2" y="5.95" width="15.7" height="11.5" fill="#5681b7"/>
<rect x="296.2" y="5.95" width="15.7" height="3.29" fill="#5681b7"/>
<rect x="296.2" y="5.95" width="15.7" height="241.5" fill="none" stroke="#000" stroke-width="1.7"/>
<path d="M312.75 247.45H316.65M312.75 199.15H316.65M312.75 150.85H316.65M312.75 102.55H316.65M312.75 54.25H316.65M312.75 5.95H316.65" stroke="#000" stroke-width="1.7" fill="none"/>
<g font-size="16">
<text x="319" y="252.45">0</text>
<text x="319" y="204.15">10</text>
<text x="319" y="155.85">20</text>
<text x="319" y="107.55">30</text>
<text x="319" y="59.25">40</text>
<text x="319" y="10.95">50</text>
</g>
</g>
<g transform="translate(351.2,317.2)">
<rect x="38.95" y="5.95" width="24.19" height="24.15" fill="#5681b7"/>
<rect x="63.14" y="5.95" width="24.19" height="24.15" fill="#e9eef7"/>
<rect x="87.33" y="5.95" width="24.19" height="24.15" fill="#e9eef7"/>
<rect x="111.52" y="5.95" width="24.19" height="24.15" fill="#e9eef7"/>
<rect x="135.71" y="5.95" width="24.19" height="24.15" fill="#e9eef7"/>
<rect x="159.9" y="5.95" width="24.19" height="24.15" fill="#e9eef7"/>
<rect x="184.09" y="5.95" width="24.19" height="24.15" fill="#e9eef7"/>
<rect x="208.28" y="5.95" width="24.19" height="24.15" fill="#e9eef7"/>
<rect x="232.47" y="5.95" width="24.19" height="24.15" fill="#e9eef7"/>
<rect x="256.66" y="5.95" width="24.19" height="24.15" fill="#e9eef7"/>
<rect x="38.95" y="30.1" width="24.19" height="24.15" fill="#e9eef7"/>
<rect x="63.14" y="30.1" width="24.19" height="24.15" fill="#5681b7"/>
<rect x="87.33" y="30.1" width="24.19" height="24.15" fill="#e9eef7"/>
<rect x="111.52" y="30.1" width="24.19" height="24.15" fill="#e9eef7"/>
<rect x="135.71" y="30.1" width="24.19" height="24.15" fill="#e9eef7"/>
<rect x="159.9" y="30.1" width="24.19" height="24.15" fill="#e9eef7"/>
<rect x="184.09" y="30.1" width="24.19" height="24.15" fill="#e9eef7"/>
<rect x="208.28" y="30.1" width="24.19" height="24.15" fill="#e9eef7"/>
<rect x="232.47" y="30.1" width="24.19" height="24.15" fill="#e9eef7"/>
<rect x="256.66" y="30.1" width="24.19" height="24.15" fill="#e9eef7"/>
<rect x="38.95" y="54.25" width="24.19" height="24.15" fill="#e9eef7"/>
<rect x="63.14" y="54.25" width="24.19" height="24.15" fill="#e9eef7"/>
<rect x="87.33" y="54.25" width="24.19" height="24.15" fill="#5681b7"/>
<rect x="111.52" y="54.25" width="24.19" height="24.15" fill="#e9eef7"/>
<rect x="135.71" y="54.25" width="24.19" height="24.15" fill="#e9eef7"/>
<rect x="159.9" y="54.25" width="24.19" height="24.15" fill="#e9eef7"/>
<rect x="184.09" y="54.25" width="24.19" height="24.15" fill="#e9eef7"/>
<rect x="208.28" y="54.25" width="24.19" height="24.15" fill="#e9eef7"/>
<rect x="232.47" y="54.25" width="24.19" height="24.15" fill="#e9eef7"/>
<rect x="256.66" y="54.25" width="24.19" height="24.15" fill="#e9eef7"/>
<rect x="38.95" y="78.4" width="24.19" height="24.15" fill="#e9eef7"/>
<rect x="63.14" y="78.4" width="24.19" height="24.15" fill="#e9eef7"/>
<rect x="87.33" y="78.4" width="24.19" height="24.15" fill="#e9eef7"/>
<rect x="111.52" y="78.4" width="24.19" height="24.15" fill="#5681b7"/>
<rect x="135.71" y="78.4" width="24.19" height="24.15" fill="#e9eef7"/>
<rect x="159.9" y="78.4" width="24.19" height="24.15" fill="#e9eef7"/>
<rect x="184.09" y="78.4" width="24.19" height="24.15" fill="#e9eef7"/>
<rect x="208.28" y="78.4" width="24.19" height="24.15" fill="#e9eef7"/>
<rect x="232.47" y="78.4" width="24.19" height="24.15" fill="#e7edf6"/>
<rect x="256.66" y="78.4" width="24.19" height="24.15" fill="#e9eef7"/>
<rect x="38.95" y="102.55" width="24.19" height="24.15" fill="#e9eef7"/>
<rect x="63.14" y="102.55" width="24.19" height="24.15" fill="#e9eef7"/>
<rect x="87.33" y="102.55" width="24.19" height="24.15" fill="#e9eef7"/>
<rect x="111.52" y="102.55" width="24.19" height="24.15" fill="#e9eef7"/>
<rect x="135.71" y="102.55" width="24.19" height="24.15" fill="#5983b8"/>
<rect x="159.9" y="102.55" width="24.19" height="24.15" fill="#e9eef7"/>
<rect x="184.09" y="102.55" width="24.19" height="24.15" fill="#e9eef7"/>
<rect x="208.28" y="102.55" width="24.19" height="24.15" fill="#e9eef7"/>
<rect x="232.47" y="102.55" width="24.19" height="24.15" fill="#e9eef7"/>
<rect x="256.66" y="102.55" width="24.19" height="24.15" fill="#e9eef7"/>
<rect x="38.95" y="126.7" width="24.19" height="24.15" fill="#e9eef7"/>
<rect x="63.14" y="126.7" width="24.19" height="24.15" fill="#e9eef7"/>
<rect x="87.33" y="126.7" width="24.19" height="24.15" fill="#e9eef7"/>
<rect x="111.52" y="126.7" width="24.19" height="24.15" fill="#e6ebf5"/>
<rect x="135.71" y="126.7" width="24.19" height="24.15" fill="#e9eef7"/>
<rect x="159.9" y="126.7" width="24.19" height="24.15" fill="#5681b7"/>
<rect x="184.09" y="126.7" width="24.19" height="24.15" fill="#e9eef7"/>
<rect x="208.28" y="126.7" width="24.19" height="24.15" fill="#e9eef7"/>
<rect x="232.47" y="126.7" width="24.19" height="24.15" fill="#e9eef7"/>
<rect x="256.66" y="126.7" width="24.19" height="24.15" fill="#e9eef7"/>
<rect x="38.95" y="150.85" width="24.19" height="24.15" fill="#e9eef7"/>
<rect x="63.14" y="150.85" width="24.19" height="24.15" fill="#e9eef7"/>
<rect x="87.33" y="150.85" width="24.19" height="24.15" fill="#e9eef7"/>
<rect x="111.52" y="150.85" width="24.19" height="24.15" fill="#e9eef7"/>
<rect x="135.71" y="150.85" width="24.19" height="24.15" fill="#e9eef7"/>
<rect x="159.9" y="150.85" width="24.19" height="24.15" fill="#e9eef7"/>
<rect x="184.09" y="150.85" width="24.19" height="24.15" fill="#5681b7"/>
<rect x="208.28" y="150.85" width="24.19" height="24.15" fill="#e9eef7"/>
<rect x="232.47" y="150.85" width="24.19" height="24.15" fill="#e9eef7"/>
<rect x="256.66" y="150.85" width="24.19" height="24.15" fill="#e9eef7"/>
<rect x="38.95" y="175" width="24.19" height="24.15" fill="#e9eef7"/>
<rect x="63.14" y="175" width="24.19" height="24.15" fill="#e9eef7"/>
<rect x="87.33" y="175" width="24.19" height="24.15" fill="#e9eef7"/>
<rect x="111.52" y="175" width="24.19" height="24.15" fill="#e9eef7"/>
<rect x="135.71" y="175" width="24.19" height="24.15" fill="#e7edf6"/>
<rect x="159.9" y="175" width="24.19" height="24.15" fill="#e9eef7"/>
<rect x="184.09" y="175" width="24.19" height="24.15" fill="#e9eef7"/>
<rect x="208.28" y="175" width="24.19" height="24.15" fill="#5681b7"/>
<rect x="232.47" y="175" width="24.19" height="24.15" fill="#e9eef7"/>
<rect x="256.66" y="175" width="24.19" height="24.15" fill="#e9eef7"/>
<rect x="38.95" y="199.15" width="24.19" height="24.15" fill="#e9eef7"/>
<rect x="63.14" y="199.15" width="24.19" height="24.15" fill="#e9eef7"/>
<rect x="87.33" y="199.15" width="24.19" height="24.15" fill="#e9eef7"/>
<rect x="111.52" y="199.15" width="24.19" height="24.15" fill="#e9eef7"/>
<rect x="135.71" y="199.15" width="24.19" height="24.15" fill="#e9eef7"/>
<rect x="159.9" y="199.15" width="24.19" height="24.15" fill="#e9eef7"/>
<rect x="184.09" y="199.15" width="24.19" height="24.15" fill="#e9eef7"/>
<rect x="208.28" y="199.15" width="24.19" height="24.15" fill="#e9eef7"/>
<rect x="232.47" y="199.15" width="24.19" height="24.15" fill="#5983b8"/>
<rect x="256.66" y="199.15" width="24.19" height="24.15" fill="#e9eef7"/>
<rect x="38.95" y="223.3" width="24.19" height="24.15" fill="#e9eef7"/>
<rect x="63.14" y="223.3" width="24.19" height="24.15" fill="#e9eef7"/>
<rect x="87.33" y="223.3" width="24.19" height="24.15" fill="#e9eef7"/>
<rect x="111.52" y="223.3" width="24.19" height="24.15" fill="#e9eef7"/>
<rect x="135.71" y="223.3" width="24.19" height="24.15" fill="#e9eef7"/>
<rect x="159.9" y="223.3" width="24.19" height="24.15" fill="#e9eef7"/>
<rect x="184.09" y="223.3" width="24.19" height="24.15" fill="#e9eef7"/>
<rect x="208.28" y="223.3" width="24.19" height="24.15" fill="#e9eef7"/>
<rect x="232.47" y="223.3" width="24.19" height="24.15" fill="#e9eef7"/>
<rect x="256.66" y="223.3" width="24.19" height="24.15" fill="#5681b7"/>
<path d="M63.14 5.95V247.45M38.95 30.1H280.85M87.33 5.95V247.45M38.95 54.25H280.85M111.52 5.95V247.45M38.95 78.4H280.85M135.71 5.95V247.45M38.95 102.55H280.85M159.9 5.95V247.45M38.95 126.7H280.85M184.09 5.95V247.45M38.95 150.85H280.85M208.28 5.95V247.45M38.95 175H280.85M232.47 5.95V247.45M38.95 199.15H280.85M256.66 5.95V247.45M38.95 223.3H280.85" stroke="#000" stroke-width="1.45" fill="none"/>
<rect x="38.95" y="5.95" width="241.9" height="241.5" fill="none" stroke="#000" stroke-width="1.7"/>
<path d="M34.2 18.02H38.1M51.05 248.3V252.2M34.2 42.17H38.1M75.24 248.3V252.2M34.2 66.33H38.1M99.43 248.3V252.2M34.2 90.47H38.1M123.62 248.3V252.2M34.2 114.62H38.1M147.81 248.3V252.2M34.2 138.77H38.1M172 248.3V252.2M34.2 162.92H38.1M196.19 248.3V252.2M34.2 187.07H38.1M220.38 248.3V252.2M34.2 211.22H38.1M244.56 248.3V252.2M34.2 235.37H38.1M268.75 248.3V252.2" stroke="#000" stroke-width="1.7" fill="none"/>
<g font-size="16" text-anchor="middle">
<text x="51.05" y="22.72">50</text>
<text x="75.24" y="22.72">0</text>
<text x="99.43" y="22.72">0</text>
<text x="123.62" y="22.72">0</text>
<text x="147.81" y="22.72">0</text>
<text x="172" y="22.72">0</text>
<text x="196.19" y="22.72">0</text>
<text x="220.38" y="22.72">0</text>
<text x="244.56" y="22.72">0</text>
<text x="268.75" y="22.72">0</text>
<text x="51.05" y="46.88">0</text>
<text x="75.24" y="46.88">50</text>
<text x="99.43" y="46.88">0</text>
<text x="123.62" y="46.88">0</text>
<text x="147.81" y="46.88">0</text>
<text x="172" y="46.88">0</text>
<text x="196.19" y="46.88">0</text>
<text x="220.38" y="46.88">0</text>
<text x="244.56" y="46.88">0</text>
<text x="268.75" y="46.88">0</text>
<text x="51.05" y="71.03">0</text>
<text x="75.24" y="71.03">0</text>
<text x="99.43" y="71.03">50</text>
<text x="123.62" y="71.03">0</text>
<text x="147.81" y="71.03">0</text>
<text x="172" y="71.03">0</text>
<text x="196.19" y="71.03">0</text>
<text x="220.38" y="71.03">0</text>
<text x="244.56" y="71.03">0</text>
<text x="268.75" y="71.03">0</text>
<text x="51.05" y="95.17">0</text>
<text x="75.24" y="95.17">0</text>
<text x="99.43" y="95.17">0</text>
<text x="123.62" y="95.17">50</text>
<text x="147.81" y="95.17">0</text>
<text x="172" y="95.17">0</text>
<text x="196.19" y="95.17">0</text>
<text x="220.38" y="95.17">0</text>
<text x="244.56" y="95.17">1</text>
<text x="268.75" y="95.17">0</text>
<text x="51.05" y="119.33">0</text>
<text x="75.24" y="119.33">0</text>
<text x="99.43" y="119.33">0</text>
<text x="123.62" y="119.33">0</text>
<text x="147.81" y="119.33">49</text>
<text x="172" y="119.33">0</text>
<text x="196.19" y="119.33">0</text>
<text x="220.38" y="119.33">0</text>
<text x="244.56" y="119.33">0</text>
<text x="268.75" y="119.33">0</text>
<text x="51.05" y="143.47">0</text>
<text x="75.24" y="143.47">0</text>
<text x="99.43" y="143.47">0</text>
<text x="123.62" y="143.47">2</text>
<text x="147.81" y="143.47">0</text>
<text x="172" y="143.47">50</text>
<text x="196.19" y="143.47">0</text>
<text x="220.38" y="143.47">0</text>
<text x="244.56" y="143.47">0</text>
<text x="268.75" y="143.47">0</text>
<text x="51.05" y="167.62">0</text>
<text x="75.24" y="167.62">0</text>
<text x="99.43" y="167.62">0</text>
<text x="123.62" y="167.62">0</text>
<text x="147.81" y="167.62">0</text>
<text x="172" y="167.62">0</text>
<text x="196.19" y="167.62">50</text>
<text x="220.38" y="167.62">0</text>
<text x="244.56" y="167.62">0</text>
<text x="268.75" y="167.62">0</text>
<text x="51.05" y="191.77">0</text>
<text x="75.24" y="191.77">0</text>
<text x="99.43" y="191.77">0</text>
<text x="123.62" y="191.77">0</text>
<text x="147.81" y="191.77">1</text>
<text x="172" y="191.77">0</text>
<text x="196.19" y="191.77">0</text>
<text x="220.38" y="191.77">50</text>
<text x="244.56" y="191.77">0</text>
<text x="268.75" y="191.77">0</text>
<text x="51.05" y="215.92">0</text>
<text x="75.24" y="215.92">0</text>
<text x="99.43" y="215.92">0</text>
<text x="123.62" y="215.92">0</text>
<text x="147.81" y="215.92">0</text>
<text x="172" y="215.92">0</text>
<text x="196.19" y="215.92">0</text>
<text x="220.38" y="215.92">0</text>
<text x="244.56" y="215.92">49</text>
<text x="268.75" y="215.92">0</text>
<text x="51.05" y="240.07">0</text>
<text x="75.24" y="240.07">0</text>
<text x="99.43" y="240.07">0</text>
<text x="123.62" y="240.07">0</text>
<text x="147.81" y="240.07">0</text>
<text x="172" y="240.07">0</text>
<text x="196.19" y="240.07">0</text>
<text x="220.38" y="240.07">0</text>
<text x="244.56" y="240.07">0</text>
<text x="268.75" y="240.07">50</text>
</g>
<g font-size="16" text-anchor="end">
<text x="31.3" y="22.72">1</text>
<text x="31.3" y="46.88">2</text>
<text x="31.3" y="71.03">3</text>
<text x="31.3" y="95.17">4</text>
<text x="31.3" y="119.33">5</text>
<text x="31.3" y="143.47">6</text>
<text x="31.3" y="167.62">7</text>
<text x="31.3" y="191.77">8</text>
<text x="31.3" y="215.92">9</text>
<text x="31.3" y="240.07">10</text>
</g>
<g font-size="16" text-anchor="middle">
<text x="51.05" y="269.3">1</text>
<text x="75.24" y="269.3">2</text>
<text x="99.43" y="269.3">3</text>
<text x="123.62" y="269.3">4</text>
<text x="147.81" y="269.3">5</text>
<text x="172" y="269.3">6</text>
<text x="196.19" y="269.3">7</text>
<text x="220.38" y="269.3">8</text>
<text x="244.56" y="269.3">9</text>
<text x="268.75" y="269.3">10</text>
<text x="159.9" y="285.1">Prediction type</text>
<text x="159.9" y="303.9">(d) SDC-Shuffle-BiGRU</text>
<text transform="translate(11.8,126.7) rotate(-90)">Fault type</text>
</g>
<rect x="296.2" y="5.95" width="15.7" height="241.5" fill="#e8edf6"/>
<rect x="296.2" y="5.95" width="15.7" height="233.29" fill="#e5ebf4"/>
<rect x="296.2" y="5.95" width="15.7" height="225.07" fill="#e2e8f3"/>
<rect x="296.2" y="5.95" width="15.7" height="216.86" fill="#dfe6f1"/>
<rect x="296.2" y="5.95" width="15.7" height="208.64" fill="#dde4ef"/>
<rect x="296.2" y="5.95" width="15.7" height="200.43" fill="#dae2ee"/>
<rect x="296.2" y="5.95" width="15.7" height="192.21" fill="#d7e0ec"/>
<rect x="296.2" y="5.95" width="15.7" height="184" fill="#d4ddeb"/>
<rect x="296.2" y="5.95" width="15.7" height="175.79" fill="#d1dbea"/>
<rect x="296.2" y="5.95" width="15.7" height="167.57" fill="#ced9e9"/>
<rect x="296.2" y="5.95" width="15.7" height="159.36" fill="#cbd7e8"/>
<rect x="296.2" y="5.95" width="15.7" height="151.14" fill="#c8d5e6"/>
<rect x="296.2" y="5.95" width="15.7" height="142.93" fill="#c4d2e4"/>
<rect x="296.2" y="5.95" width="15.7" height="134.71" fill="#bfcfe2"/>
<rect x="296.2" y="5.95" width="15.7" height="126.5" fill="#bbcce0"/>
<rect x="296.2" y="5.95" width="15.7" height="118.29" fill="#b4c6dd"/>
<rect x="296.2" y="5.95" width="15.7" height="110.07" fill="#adc0da"/>
<rect x="296.2" y="5.95" width="15.7" height="101.86" fill="#a5bad6"/>
<rect x="296.2" y="5.95" width="15.7" height="93.64" fill="#9cb4d3"/>
<rect x="296.2" y="5.95" width="15.7" height="85.43" fill="#94aed0"/>
<rect x="296.2" y="5.95" width="15.7" height="77.21" fill="#8ba7cc"/>
<rect x="296.2" y="5.95" width="15.7" height="69" fill="#84a2c9"/>
<rect x="296.2" y="5.95" width="15.7" height="60.79" fill="#7d9dc7"/>
<rect x="296.2" y="5.95" width="15.7" height="52.57" fill="#7698c4"/>
<rect x="296.2" y="5.95" width="15.7" height="44.36" fill="#7094c1"/>
<rect x="296.2" y="5.95" width="15.7" height="36.14" fill="#6b90bf"/>
<rect x="296.2" y="5.95" width="15.7" height="27.93" fill="#658cbc"/>
<rect x="296.2" y="5.95" width="15.7" height="19.71" fill="#6088ba"/>
<rect x="296.2" y="5.95" width="15.7" height="11.5" fill="#5681b7"/>
<rect x="296.2" y="5.95" width="15.7" height="3.29" fill="#5681b7"/>
<rect x="296.2" y="5.95" width="15.7" height="241.5" fill="none" stroke="#000" stroke-width="1.7"/>
<path d="M312.75 247.45H316.65M312.75 199.15H316.65M312.75 150.85H316.65M312.75 102.55H316.65M312.75 54.25H316.65M312.75 5.95H316.65" stroke="#000" stroke-width="1.7" fill="none"/>
<g font-size="16">
<text x="319" y="252.45">0</text>
<text x="319" y="204.15">10</text>
<text x="319" y="155.85">20</text>
<text x="319" y="107.55">30</text>
<text x="319" y="59.25">40</text>
<text x="319" y="10.95">50</text>
</g>
</g>
</svg>
</body></html>
